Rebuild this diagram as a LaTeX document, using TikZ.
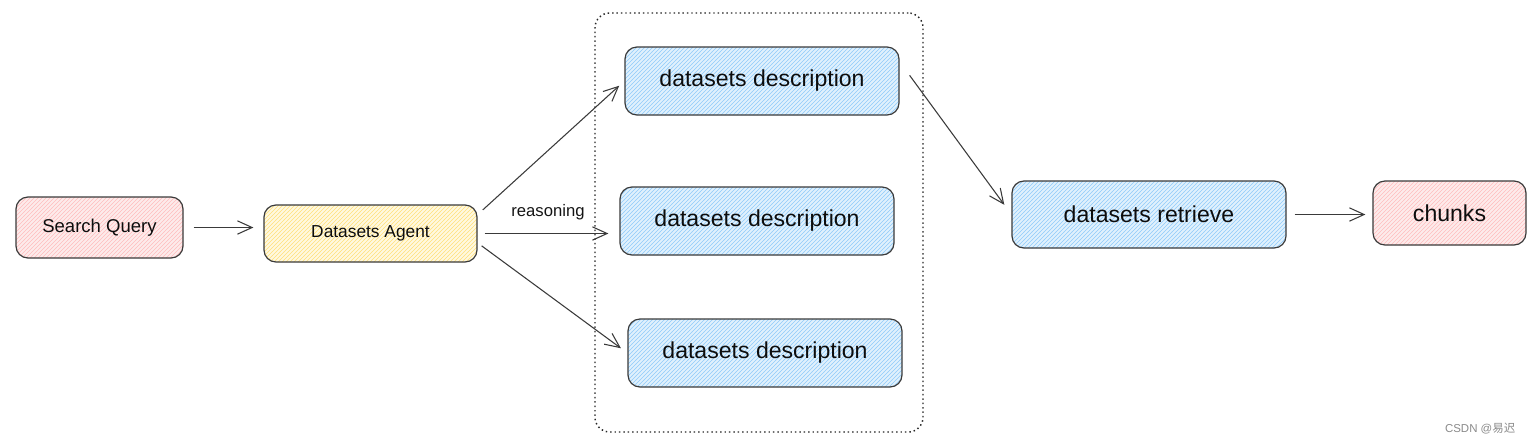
\documentclass[tikz,border=0pt]{standalone}
\usepackage{fontspec}
\setmainfont{Liberation Sans}
\newfontfamily\cjkfont{Noto Sans CJK SC}
\usetikzlibrary{arrows.meta,patterns}
\newdimen\pxu \pxu=0.75pt
\definecolor{edge}{HTML}{3A3A3A}
\definecolor{pinkbg}{HTML}{FDEBEB}
\definecolor{pinkhatch}{HTML}{FFBDBD}
\definecolor{yellowbg}{HTML}{FFF9E0}
\definecolor{yellowhatch}{HTML}{FFE07A}
\definecolor{bluebg}{HTML}{E0F1FD}
\definecolor{bluehatch}{HTML}{8FCBFA}
\definecolor{wmgray}{HTML}{8A8A8A}
\begin{document}
\begin{tikzpicture}[x=0.75pt,y=-0.75pt,
  box/.style={draw=edge, line width=0.9pt, rounded corners=9pt, inner sep=0pt, text=black!95},
  pinkbox/.style={box, preaction={fill=pinkbg}, pattern=north east lines, pattern color=pinkhatch},
  yellowbox/.style={box, preaction={fill=yellowbg}, pattern=north east lines, pattern color=yellowhatch},
  bluebox/.style={box, preaction={fill=bluebg}, pattern=north east lines, pattern color=bluehatch},
  bigtext/.style={font=\fontsize{17.3}{20}\selectfont},
  grpbox/.style={draw=black!85, line width=1.1pt, dash pattern=on 1.1pt off 2.2pt, rounded corners=11pt, inner sep=0pt},
  conn/.style={draw=edge, line width=0.8pt, -{Straight Barb[length=11pt,width=10pt]}},
]
\useasboundingbox (0,0) rectangle (1536,444);

% dotted group
\node[grpbox, minimum width=328\pxu, minimum height=419\pxu] (grp) at (759,222.5) {};

% nodes
\node[pinkbox, minimum width=167\pxu, minimum height=61\pxu, font=\fontsize{13.9}{16}\selectfont] (sq) at (99.5,227.5) {Search Query};
\node[yellowbox, minimum width=213\pxu, minimum height=57\pxu, font=\fontsize{13}{15}\selectfont] (da) at (370.5,233.5) {Datasets Agent};
\node[bluebox, bigtext, minimum width=274\pxu, minimum height=68\pxu] (d1) at (762,81) {datasets description};
\node[bluebox, bigtext, minimum width=274\pxu, minimum height=68\pxu] (d2) at (757,221) {datasets description};
\node[bluebox, bigtext, minimum width=274\pxu, minimum height=68\pxu] (d3) at (765,353) {datasets description};
\node[bluebox, bigtext, minimum width=274\pxu, minimum height=67\pxu] (ret) at (1149,214.5) {datasets retrieve};
\node[pinkbox, bigtext, minimum width=153\pxu, minimum height=64\pxu] (ch) at (1449.5,213) {chunks};

% label
\node[font=\fontsize{12.5}{14}\selectfont, text=black!92] (lbl) at (548,212) {reasoning};

% connectors
\draw[conn, shorten <=10\pxu, shorten >=10\pxu] (sq.east) -- (sq.east -| da.west);
\draw[conn, shorten <=7\pxu, shorten >=7\pxu] (da.10) -- (d1.west);
\draw[conn, shorten <=7\pxu, shorten >=11\pxu] (da.east) -- (da.east -| d2.west);
\draw[conn, shorten <=5\pxu, shorten >=8\pxu] (da.-5) -- (d3.west);
\draw[conn, shorten <=17\pxu, shorten >=12\pxu] (d1.8) -- (ret.west);
\draw[conn, shorten <=8\pxu, shorten >=7\pxu] (ret.east) -- (ret.east -| ch.west);

% watermark
\node[anchor=east, text=wmgray, font=\fontsize{8.6}{10}\selectfont] (wm) at (1520,429) {CSDN @{\cjkfont 易迟}};
\end{tikzpicture}
\end{document}
